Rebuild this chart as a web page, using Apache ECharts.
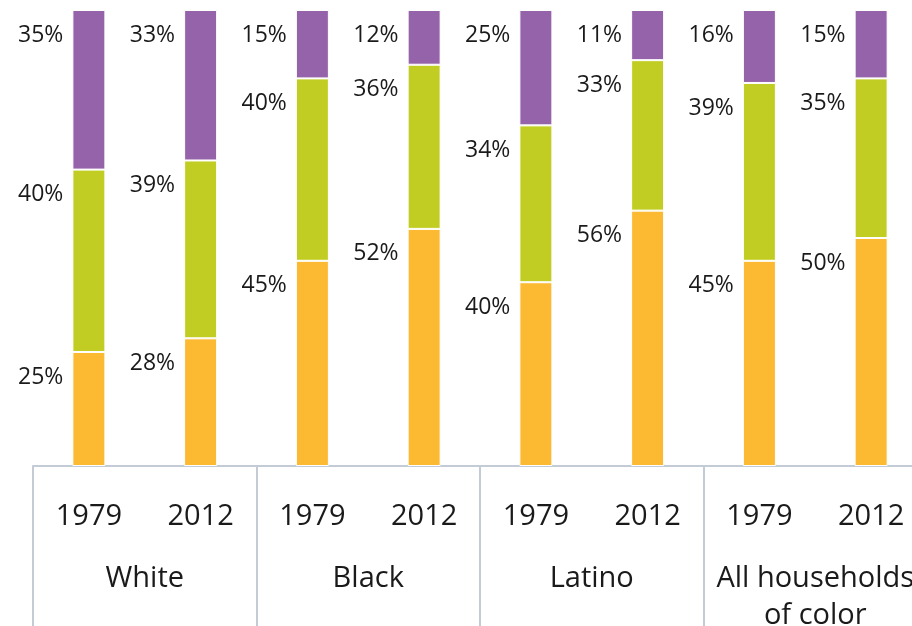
<!DOCTYPE html>
<html>
<head>
<meta charset="utf-8">
<script src="https://cdn.jsdelivr.net/npm/echarts@6/dist/echarts.min.js"></script>
<style>
html,body{margin:0;padding:0;background:#fff;}
#chart{width:912px;height:626px;}
</style>
</head>
<body>
<div id="chart"></div>
<script>
var years = ['1979','2012','1979','2012','1979','2012','1979','2012'];
var groups = ['White','Black','Latino','All households\nof color'];
var lowShare = [25, 28, 45, 52, 40.3, 56, 45, 50];
var midShare = [40, 39, 40, 36, 34.4, 33, 39, 35];
var highShare = [35, 33, 15, 12, 25.3, 11, 16, 15];

var FONT = '"Open Sans", "Noto Sans", sans-serif';
var chart = echarts.init(document.getElementById('chart'));

function mkSeries(name, data, color) {
  return {
    name: name,
    type: 'bar',
    stack: 'total',
    data: data,
    barWidth: 33,
    itemStyle: { color: color, borderColor: '#ffffff', borderWidth: 1 },
    label: {
      show: true,
      position: [-9, 25],
      align: 'right',
      verticalAlign: 'middle',
      color: '#1a1a1a',
      fontFamily: FONT,
      fontSize: 23,
      formatter: function (p) { return Math.round(p.value) + '%'; }
    }
  };
}

chart.setOption({
  animation: false,
  backgroundColor: '#ffffff',
  grid: { left: 33, right: -15, top: 10, bottom: 160, containLabel: false, outerBoundsMode: 'none' },
  xAxis: [
    {
      type: 'category',
      data: years,
      position: 'bottom',
      axisLine: { show: true, lineStyle: { color: '#c3ccd6', width: 2 } },
      axisTick: { show: false },
      axisLabel: { color: '#1a1a1a', fontFamily: FONT, fontSize: 29, margin: 36, interval: 0 }
    },
    {
      type: 'category',
      data: groups,
      position: 'bottom',
      axisLine: { show: false },
      axisTick: { show: true, length: 162, lineStyle: { color: '#c3ccd6', width: 2 } },
      axisLabel: { color: '#1a1a1a', fontFamily: FONT, fontSize: 29, margin: 94, lineHeight: 37, interval: 0 }
    }
  ],
  yAxis: { type: 'value', min: 0, max: 100, show: false },
  series: [
    mkSeries('low', lowShare, '#fcb932'),
    mkSeries('mid', midShare, '#c1cd23'),
    mkSeries('high', highShare, '#9563a9')
  ]
});
</script>
</body>
</html>
